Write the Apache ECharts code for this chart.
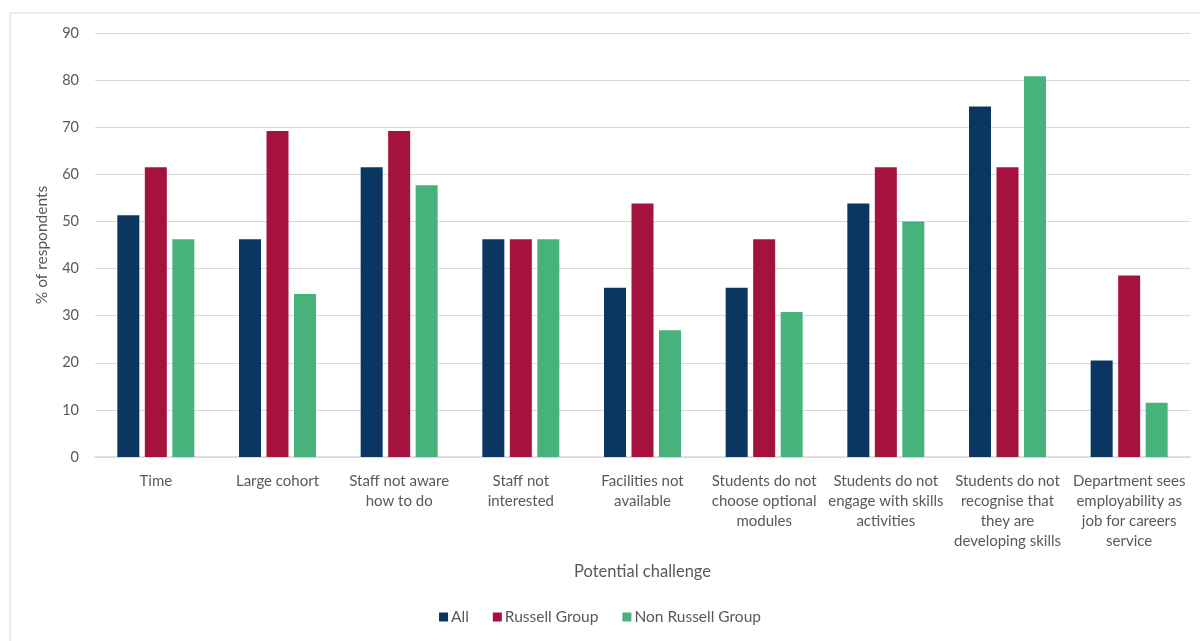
<!DOCTYPE html>
<html>
<head>
<meta charset="utf-8">
<style>
  html, body { margin: 0; padding: 0; background: #fff; }
  #chart { width: 1200px; height: 641px; }
</style>
<script src="https://cdn.jsdelivr.net/npm/echarts@6/dist/echarts.min.js"></script>
</head>
<body>
<div id="chart"></div>
<script>
// categories (line breaks as in the original labels)
var categories = [
  'Time',
  'Large cohort',
  'Staff not aware\nhow to do',
  'Staff not\ninterested',
  'Facilities not\navailable',
  'Students do not\nchoose optional\nmodules',
  'Students do not\nengage with skills\nactivities',
  'Students do not\nrecognise that\nthey are\ndeveloping skills',
  'Department sees\nemployability as\njob for careers\nservice'
];
var seriesNames = ['All', 'Russell Group', 'Non Russell Group'];
var allValues = [51.3, 46.2, 61.5, 46.2, 35.9, 35.9, 53.8, 74.4, 20.5];
var russellValues = [61.5, 69.2, 69.2, 46.2, 53.8, 46.2, 61.5, 61.5, 38.5];
var nonRussellValues = [46.2, 34.6, 57.7, 46.2, 26.9, 30.8, 50.0, 80.8, 11.5];
var colors = ['#0b3661', '#a5123d', '#48b27b'];

var textColor = '#595959';
var fontFamily = 'Lato, "Open Sans", sans-serif';

var myChart = echarts.init(document.getElementById('chart'));
var option = {
  animation: false,
  color: colors,
  textStyle: { fontFamily: fontFamily, color: textColor },
  graphic: [{
    type: 'rect',
    shape: { x: 10, y: 13, width: 1200, height: 640 },
    style: { fill: 'none', stroke: '#d9d9d9', lineWidth: 1 },
    silent: true
  }],
  legend: {
    data: seriesNames,
    bottom: 11,
    left: 'center',
    itemWidth: 9,
    itemHeight: 9,
    itemGap: 24,
    icon: 'rect',
    textStyle: { color: textColor, fontSize: 15.5, fontFamily: fontFamily, padding: [0, 0, 0, -2] }
  },
  grid: {
    left: 95,
    right: 10,
    top: 33,
    bottom: 184
  },
  xAxis: {
    type: 'category',
    data: categories,
    name: 'Potential challenge',
    nameLocation: 'middle',
    nameGap: 106,
    nameTextStyle: { color: textColor, fontSize: 16.5, fontFamily: fontFamily },
    axisLine: { lineStyle: { color: '#d9d9d9', width: 1.5 } },
    axisTick: { show: false },
    axisLabel: {
      color: textColor,
      fontSize: 15,
      lineHeight: 20,
      margin: 14,
      interval: 0,
      fontFamily: fontFamily
    }
  },
  yAxis: {
    type: 'value',
    min: 0,
    max: 90,
    interval: 10,
    name: '% of respondents',
    nameLocation: 'middle',
    nameGap: 45,
    nameTextStyle: { color: textColor, fontSize: 15.5, fontFamily: fontFamily },
    axisLine: { show: false },
    axisTick: { show: false },
    axisLabel: { color: textColor, fontSize: 14.5, margin: 16, fontFamily: fontFamily },
    splitLine: { lineStyle: { color: '#d9d9d9', width: 1.2 } }
  },
  series: [
    { name: seriesNames[0], type: 'bar', data: allValues, barWidth: 22, barGap: '25%' },
    { name: seriesNames[1], type: 'bar', data: russellValues, barWidth: 22, barGap: '25%' },
    { name: seriesNames[2], type: 'bar', data: nonRussellValues, barWidth: 22, barGap: '25%' }
  ]
};
myChart.setOption(option);
</script>
</body>
</html>
